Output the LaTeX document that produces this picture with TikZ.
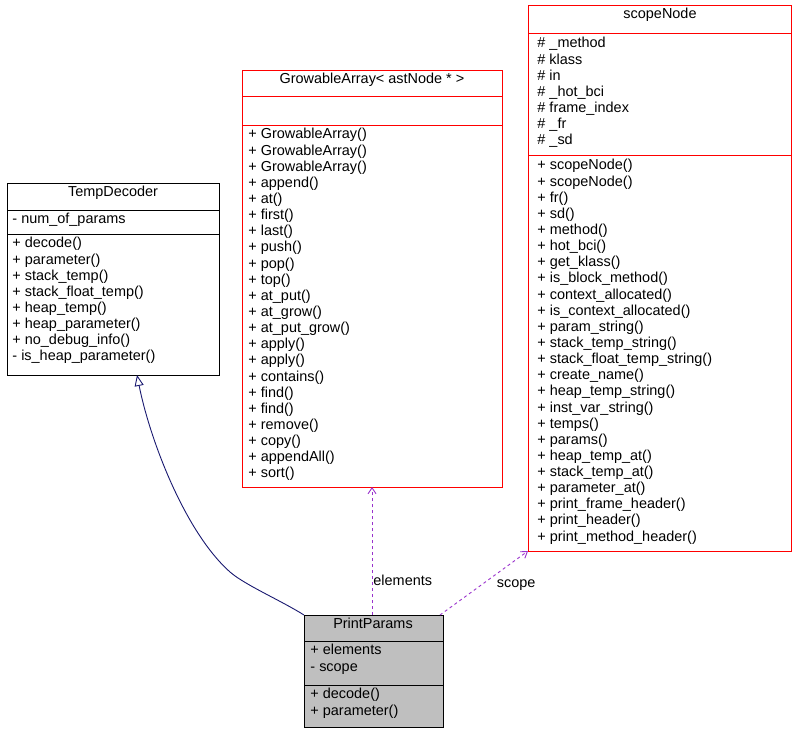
\documentclass[tikz,border=0pt]{standalone}
\usepackage{fontspec}
\setmainfont{Liberation Sans}
\usetikzlibrary{arrows.meta,positioning}
\definecolor{navyedge}{RGB}{25,25,112}
\definecolor{usedge}{RGB}{153,50,204}

\begin{document}
\begin{tikzpicture}[x=1bp,y=-1bp, line width=0.9bp,
    title/.style={anchor=north, inner sep=0pt, font=\fontsize{14.5}{16}\selectfont},
    members/.style={anchor=north west, align=left, inner sep=0pt, font=\fontsize{14.5}{16.2}\selectfont},
    inherit/.style={draw=navyedge, -{Triangle[open,length=11bp,width=9bp]}},
    uses/.style={draw=usedge, dashed, -{Straight Barb[length=6bp,width=8bp]}},
    lbl/.style={font=\fontsize{14.5}{16}\selectfont, inner sep=1pt}
]
    \useasboundingbox (0,0) rectangle (799,735);
    % TempDecoder
    \draw (7,183) rectangle (219,375) (7,210) -- (219,210) (7,234) -- (219,234);
    \node[title] (tdt) at (113,186) {TempDecoder};
    \node[members] at (12,213) {- num\_of\_params};
    \node[members] at (12,237) {+ decode()\\+ parameter()\\+ stack\_temp()\\+ stack\_float\_temp()\\+ heap\_temp()\\+ heap\_parameter()\\+ no\_debug\_info()\\- is\_heap\_parameter()};
    \coordinate (td) at (137,375);
    % GrowableArray
    \draw[red] (242,70) rectangle (502,487) (242,96) -- (502,96) (242,125) -- (502,125);
    \node[title] (gat) at (372,73) {GrowableArray< astNode * >};
    \node[members] at (248,128) {+ GrowableArray()\\+ GrowableArray()\\+ GrowableArray()\\+ append()\\+ at()\\+ first()\\+ last()\\+ push()\\+ pop()\\+ top()\\+ at\_put()\\+ at\_grow()\\+ at\_put\_grow()\\+ apply()\\+ apply()\\+ contains()\\+ find()\\+ find()\\+ remove()\\+ copy()\\+ appendAll()\\+ sort()};
    \coordinate (ga) at (372,487);
    % scopeNode
    \draw[red] (528,5) rectangle (791,551) (528,33) -- (791,33) (528,155) -- (791,155);
    \node[title] (snt) at (660,8) {scopeNode};
    \node[members] at (537,37) {\# \_method\\\# klass\\\# in\\\# \_hot\_bci\\\# frame\_index\\\# \_fr\\\# \_sd};
    \node[members] at (537,159) {+ scopeNode()\\+ scopeNode()\\+ fr()\\+ sd()\\+ method()\\+ hot\_bci()\\+ get\_klass()\\+ is\_block\_method()\\+ context\_allocated()\\+ is\_context\_allocated()\\+ param\_string()\\+ stack\_temp\_string()\\+ stack\_float\_temp\_string()\\+ create\_name()\\+ heap\_temp\_string()\\+ inst\_var\_string()\\+ temps()\\+ params()\\+ heap\_temp\_at()\\+ stack\_temp\_at()\\+ parameter\_at()\\+ print\_frame\_header()\\+ print\_header()\\+ print\_method\_header()};
    \coordinate (sn) at (528,551);
    % PrintParams
    \draw[fill=black!25] (304,615) rectangle (443,727) (304,641) -- (443,641) (304,685) -- (443,685);
    \node[title] (ppt) at (373,618) {PrintParams};
    \node[members] at (310,644) {+ elements\\- scope};
    \node[members] at (310,688) {+ decode()\\+ parameter()};
    \coordinate (ppl) at (304,615);
    \coordinate (ppm) at (372,615);
    \coordinate (ppr) at (440,615);

    \draw[inherit] (ppl) .. controls (280,600) and (245,585) .. (230,572) .. controls (185,532) and (150,440) .. (td);
    \draw[uses] (ppm) -- node[lbl, right, pos=0.27] {elements} (ga);
    \draw[uses] (ppr) -- node[lbl, right, pos=0.47, xshift=14bp] {scope} (sn);
\end{tikzpicture}
\end{document}
